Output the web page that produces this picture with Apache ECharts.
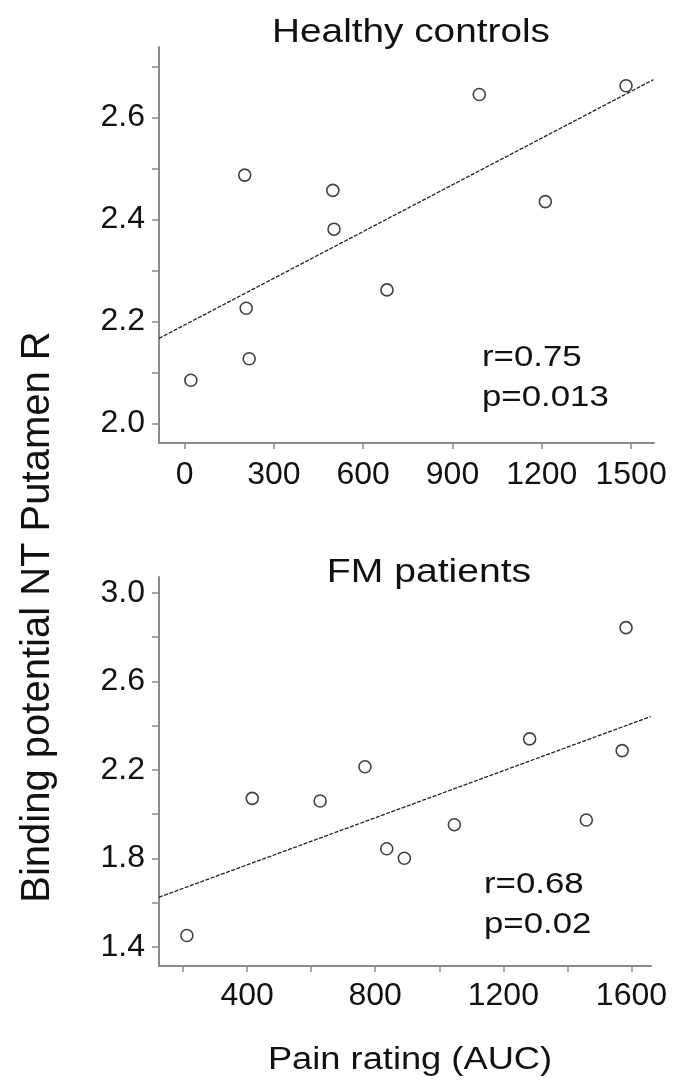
<!DOCTYPE html>
<html>
<head>
<meta charset="utf-8">
<script src="https://cdn.jsdelivr.net/npm/echarts@6/dist/echarts.min.js"></script>
<style>html,body{margin:0;padding:0;background:#fff;}#c{width:677px;height:1080px;}</style>
</head>
<body>
<div id="c"></div>
<script>
// Healthy controls
const hcX = [21, 202, 207, 217, 498, 502, 680, 990, 1212, 1483];
const hcY = [2.085, 2.487, 2.226, 2.127, 2.457, 2.381, 2.262, 2.645, 2.435, 2.662];
const hcTrendX = [-86, 1575];
const hcTrendY = [2.167, 2.674];
const hcXTicks = [0, 300, 600, 900, 1200, 1500];
const hcYTicks = [2.0, 2.1, 2.2, 2.3, 2.4, 2.5, 2.6, 2.7];
const hcYLabels = [2.0, 2.2, 2.4, 2.6];
// FM patients
const fmX = [212, 416, 628, 768, 836, 891, 1047, 1282, 1459, 1571, 1583];
const fmY = [1.451, 2.071, 2.059, 2.214, 1.843, 1.800, 1.952, 2.340, 1.973, 2.287, 2.843];
const fmTrendX = [125, 1660];
const fmTrendY = [1.624, 2.441];
const fmXTicks = [200, 400, 600, 800, 1000, 1200, 1400, 1600];
const fmXLabels = [400, 800, 1200, 1600];
const fmYTicks = [1.4, 1.6, 1.8, 2.0, 2.2, 2.4, 2.6, 2.8, 3.0];
const fmYLabels = [1.4, 1.8, 2.2, 2.6, 3.0];

const FONT = 'Liberation Sans';
const axisColor = '#8a8a8a';
function xAxisCfg(grid, min, max, ticks, labels, margin) {
  return {
    type: 'value', gridIndex: grid, min: min, max: max,
    splitLine: {show: false},
    axisLine: {show: true, onZero: false, lineStyle: {color: axisColor, width: 2}},
    axisTick: {show: true, length: 6, inside: false, customValues: ticks, lineStyle: {color: axisColor, width: 1.5}},
    axisLabel: {show: true, customValues: labels, margin: margin, color: '#111', fontSize: 32, fontFamily: FONT,
      formatter: v => String(v)}
  };
}
function yAxisCfg(grid, min, max, ticks, labels) {
  return {
    type: 'value', gridIndex: grid, min: min, max: max,
    splitLine: {show: false},
    axisLine: {show: true, onZero: false, lineStyle: {color: axisColor, width: 2}},
    axisTick: {show: true, length: 7, inside: false, customValues: ticks, lineStyle: {color: axisColor, width: 1.5}},
    axisLabel: {show: true, customValues: labels, margin: 14, color: '#111', fontSize: 32, fontFamily: FONT,
      formatter: v => Number(v).toFixed(1)}
  };
}
const zip = (a, b) => a.map((v, i) => [v, b[i]]);
const scatterStyle = {color: '#fff', borderColor: '#111', borderWidth: 1.6};
const lineStyle = {color: '#222', width: 1.3, type: [4, 1.5]};

const option = {
  animation: false,
  backgroundColor: '#fff',
  grid: [
    {left: 159, top: 47, width: 495, height: 396},
    {left: 159, top: 577, width: 492, height: 389}
  ],
  xAxis: [
    xAxisCfg(0, -86, 1577, hcXTicks, hcXTicks, 16),
    xAxisCfg(1, 125, 1661, fmXTicks, fmXLabels, 14)
  ],
  yAxis: [
    yAxisCfg(0, 1.962, 2.738, hcYTicks, hcYLabels),
    yAxisCfg(1, 1.313, 3.072, fmYTicks, fmYLabels)
  ],
  series: [
    {type: 'line', xAxisIndex: 0, yAxisIndex: 0, data: zip(hcTrendX, hcTrendY), symbol: 'none', lineStyle: lineStyle, z: 1},
    {type: 'scatter', xAxisIndex: 0, yAxisIndex: 0, data: zip(hcX, hcY), symbol: 'circle', symbolSize: 12, itemStyle: scatterStyle, z: 2},
    {type: 'line', xAxisIndex: 1, yAxisIndex: 1, data: zip(fmTrendX, fmTrendY), symbol: 'none', lineStyle: lineStyle, z: 1},
    {type: 'scatter', xAxisIndex: 1, yAxisIndex: 1, data: zip(fmX, fmY), symbol: 'circle', symbolSize: 12, itemStyle: scatterStyle, z: 2}
  ],
  graphic: [
    {type: 'text', x: 411, y: 50, scaleX: 1.14, style: {text: 'Healthy controls', x: 0, y: 0, fill: '#111', fontSize: 34, fontFamily: FONT, align: 'center', verticalAlign: 'bottom'}},
    {type: 'text', x: 429, y: 590, scaleX: 1.15, style: {text: 'FM patients', x: 0, y: 0, fill: '#111', fontSize: 34, fontFamily: FONT, align: 'center', verticalAlign: 'bottom'}},
    {type: 'text', x: 482, y: 338, scaleX: 1.16, style: {text: 'r=0.75\np=0.013', x: 0, y: 0, fill: '#111', fontSize: 30, lineHeight: 40, fontFamily: FONT, align: 'left', verticalAlign: 'top'}},
    {type: 'text', x: 484, y: 865, scaleX: 1.16, style: {text: 'r=0.68\np=0.02', x: 0, y: 0, fill: '#111', fontSize: 30, lineHeight: 40, fontFamily: FONT, align: 'left', verticalAlign: 'top'}},
    {type: 'text', x: 410, y: 1060, scaleX: 1.17, style: {text: 'Pain rating (AUC)', x: 0, y: 0, fill: '#111', fontSize: 31, fontFamily: FONT, align: 'center', verticalAlign: 'middle'}},
    {type: 'text', x: 38, y: 617, rotation: Math.PI / 2, style: {text: 'Binding potential NT Putamen R', x: 0, y: 0, fill: '#111', fontSize: 40, fontFamily: FONT, align: 'center', verticalAlign: 'middle'}}
  ]
};
const chart = echarts.init(document.getElementById('c'), null, {renderer: 'canvas'});
chart.setOption(option);
</script>
</body>
</html>
